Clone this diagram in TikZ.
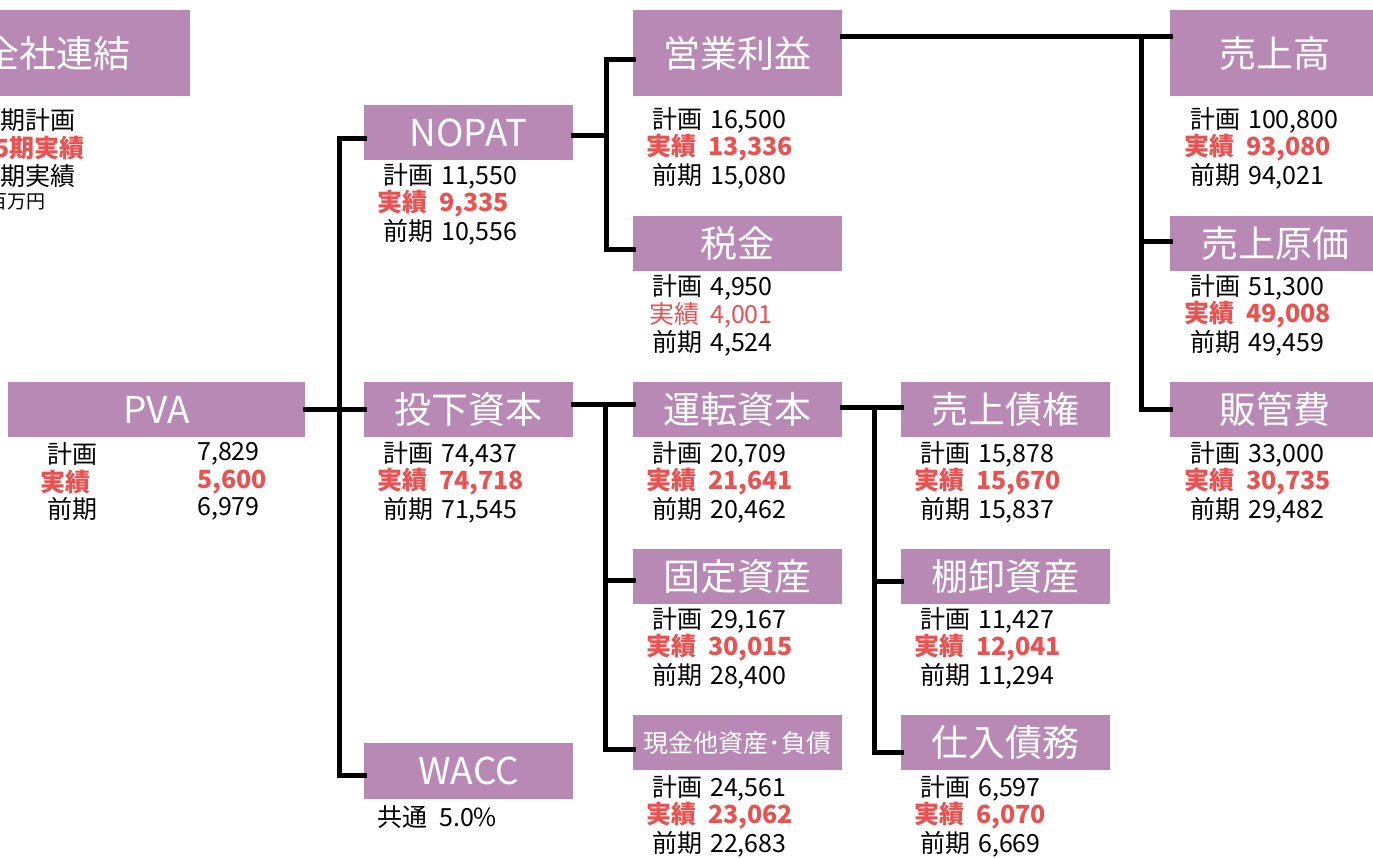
\documentclass[tikz,border=0pt]{standalone}
\usepackage{fontspec}
\setmainfont{Noto Sans CJK JP}
\usetikzlibrary{calc}
\definecolor{boxc}{RGB}{185,137,181}
\definecolor{redc}{RGB}{232,82,80}
\tikzset{
  box/.style={fill=boxc, text=white, inner sep=0pt, anchor=north west, font=\fontsize{37}{40}\selectfont},
  dat/.style={inner sep=0pt, anchor=west, font=\fontsize{25}{28}\selectfont},
  datred/.style={dat, text=redc, font=\fontsize{25}{28}\selectfont\bfseries},
  conn/.style={line width=5pt, line cap=rect, line join=miter, draw=black}
}
\newcommand\trio[6]{%
  \node[dat] (#1p) at (#2,{#3+2}) {計画\hspace{8pt}#4};
  \node[datred] (#1a) at ({#2-6},{#3+30}) {実績\hspace{12pt}#5};
  \node[dat] (#1q) at (#2,{#3+58}) {前期\hspace{8pt}#6};
}
\begin{document}
\begin{tikzpicture}[x=1pt,y=-1pt]
\clip (0,0) rectangle (1373,857);
\fill[white] (0,0) rectangle (1373,857);

% boxes
\node[box, minimum width=268pt, minimum height=86pt] (zensha) at (-78,10) {全社連結};
\node[box, minimum width=209pt, minimum height=86pt] (eigyo) at (633,10) {営業利益};
\node[box, minimum width=210pt, minimum height=86pt] (uriage) at (1170,10) {売上高};
\node[box, minimum width=209pt, minimum height=55pt] (nopat) at (364,105) {NOPAT};
\node[box, minimum width=209pt, minimum height=55pt] (zei) at (633,216) {税金};
\node[box, minimum width=210pt, minimum height=55pt] (genka) at (1170,216) {売上原価};
\node[box, minimum width=297pt, minimum height=55pt] (pva) at (8,382) {PVA};
\node[box, minimum width=209pt, minimum height=55pt] (toka) at (364,382) {投下資本};
\node[box, minimum width=209pt, minimum height=55pt] (unten) at (633,382) {運転資本};
\node[box, minimum width=209pt, minimum height=55pt] (saiken) at (901,382) {売上債権};
\node[box, minimum width=210pt, minimum height=55pt] (hankan) at (1170,382) {販管費};
\node[box, minimum width=209pt, minimum height=55pt] (kotei) at (633,549) {固定資産};
\node[box, minimum width=209pt, minimum height=55pt] (tana) at (901,549) {棚卸資産};
\node[box, minimum width=209pt, minimum height=55pt, font=\fontsize{25}{28}\selectfont] (genkin) at (633,715) {現金他資産･負債};
\node[box, minimum width=209pt, minimum height=55pt] (shiire) at (901,715) {仕入債務};
\node[box, minimum width=209pt, minimum height=56pt] (wacc) at (364,743) {WACC};

% connectors
\draw[conn] ([yshift=-6pt]nopat.west) -- ++(-25,0) |- ([yshift=-4pt]wacc.west);
\draw[conn] (pva.east) -- (toka.west);
\draw[conn] ([yshift=-3pt]nopat.east) -- ++(33,0);
\draw[conn] ([yshift=-6pt]eigyo.west) -- ++(-27,0) |- ([yshift=-6pt]zei.west);
\draw[conn] ([yshift=17pt]eigyo.east) -- ([yshift=17pt]uriage.west);
\coordinate (j4) at (1141,36);
\draw[conn] (j4) |- ([yshift=2pt]genka.west);
\draw[conn] (j4) |- (hankan.west);
\draw[conn] ([yshift=5pt]toka.east) -- ([yshift=5pt]unten.west);
\coordinate (j5) at (605,405);
\draw[conn] (j5) |- ([yshift=-3.5pt]kotei.west);
\draw[conn] (j5) |- ([yshift=-6.5pt]genkin.west);
\draw[conn] ([yshift=2pt]unten.east) -- ([yshift=2pt]saiken.west);
\coordinate (j6) at (874,407);
\draw[conn] (j6) |- ([yshift=-5pt]tana.west);
\draw[conn] (j6) |- ([yshift=-9.5pt]shiire.west);

% legend under 全社連結
\node[dat, anchor=east] (lg1) at (76,120) {期計画};
\node[datred, anchor=east] (lg2) at (85,148) {5期実績};
\node[dat, anchor=east] (lg3) at (76,176) {期実績};
\node[dat, anchor=east, font=\fontsize{19}{22}\selectfont] (lg4) at (46,202) {百万円};

% PVA values
\node[dat] (pvap) at (47,454) {計画};
\node[datred] (pvaa) at (40,482) {実績};
\node[dat] (pvaq) at (47,509) {前期};
\node[dat] (pvapv) at (197,454) {7,829};
\node[datred] (pvaav) at (197,482) {5,600};
\node[dat] (pvaqv) at (197,509) {6,979};

% data
\trio{eigyo}{652}{118}{16,500}{13,336}{15,080}
\node[dat] (zeip) at (652,287) {計画\hspace{8pt}4,950};
\node[dat, text=redc] (zeia) at (649,315) {実績\hspace{11pt}4,001};
\node[dat] (zeiq) at (652,343) {前期\hspace{8pt}4,524};
\trio{uriage}{1190}{118}{100,800}{93,080}{94,021}
\trio{genka}{1190}{285}{51,300}{49,008}{49,459}
\trio{hankan}{1190}{452}{33,000}{30,735}{29,482}
\trio{nopat}{383}{174}{11,550}{9,335}{10,556}
\trio{toka}{383}{452}{74,437}{74,718}{71,545}
\trio{unten}{652}{452}{20,709}{21,641}{20,462}
\trio{saiken}{920}{452}{15,878}{15,670}{15,837}
\trio{kotei}{652}{618}{29,167}{30,015}{28,400}
\trio{tana}{920}{618}{11,427}{12,041}{11,294}
\trio{genkin}{652}{786}{24,561}{23,062}{22,683}
\trio{shiire}{920}{786}{6,597}{6,070}{6,669}
\node[dat] (waccv) at (377,817) {共通\hspace{12pt}5.0\%};
\end{tikzpicture}
\end{document}
